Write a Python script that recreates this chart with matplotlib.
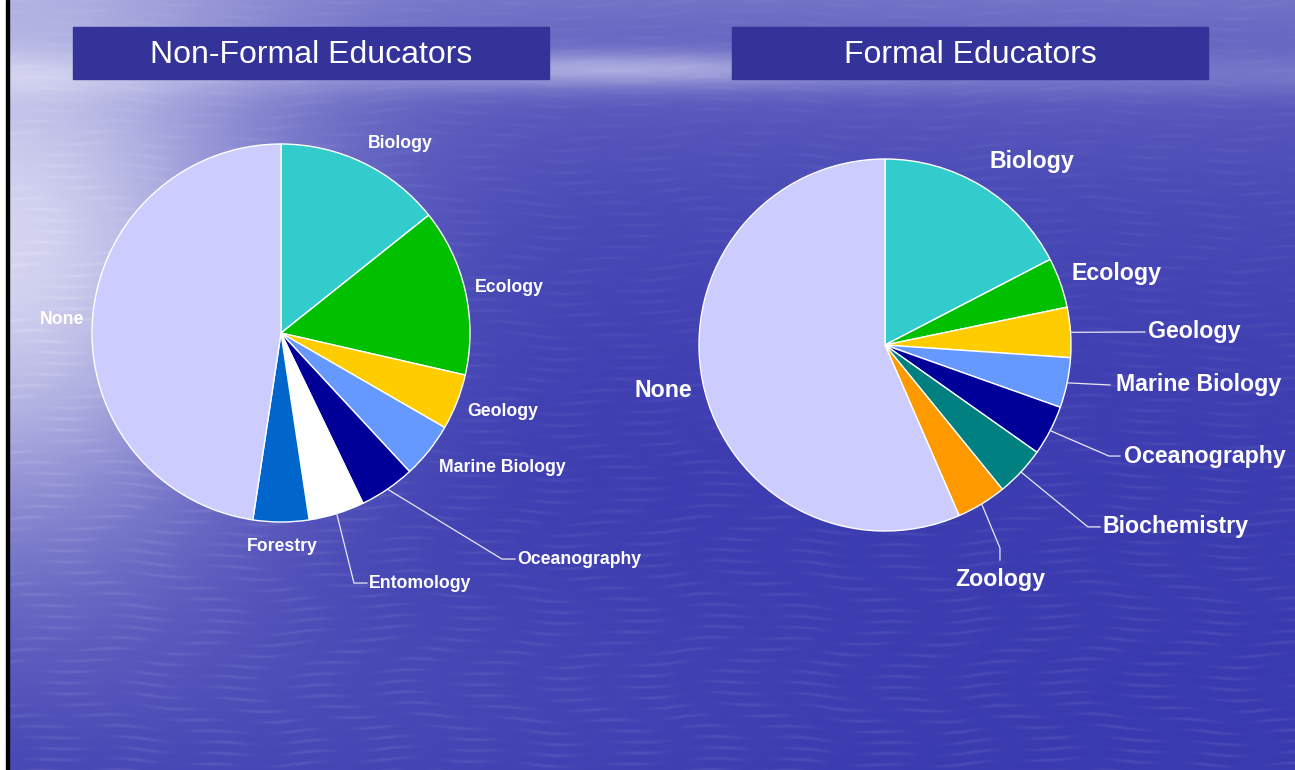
import numpy as np
import matplotlib
matplotlib.use('Agg')
from matplotlib import pyplot as plt
from matplotlib.patches import Rectangle

# Survey answers: field of training of the educators
nonformal_fields = ['Biology', 'Ecology', 'Geology', 'Marine Biology', 'Oceanography',
                    'Entomology', 'Forestry', 'None']
nonformal_counts = [3, 3, 1, 1, 1, 1, 1, 10]
nonformal_colors = ['#33CCCC', '#00C000', '#FFCC00', '#6699FF', '#000099',
                    '#FFFFFF', '#0066CC', '#CCCCFF']

formal_fields = ['Biology', 'Ecology', 'Geology', 'Marine Biology', 'Oceanography',
                 'Biochemistry', 'Zoology', 'None']
formal_counts = [4, 1, 1, 1, 1, 1, 1, 13]
formal_colors = ['#33CCCC', '#00C000', '#FFCC00', '#6699FF', '#000099',
                 '#008080', '#FF9900', '#CCCCFF']

# label layout in pie-radius units: (x, y, ha, leader points or None)
nonformal_layout = [
    (0.63, 1.005, 'center', None),
    (1.21, 0.243, 'center', None),
    (1.175, -0.413, 'center', None),
    (1.17, -0.709, 'center', None),
    (1.249, -1.196, 'left', [(1.169, -1.196), (1.238, -1.196)]),
    (0.466, -1.323, 'left', [(0.386, -1.323), (0.455, -1.323)]),
    (0.005, -1.127, 'center', None),
    (-1.159, 0.069, 'center', None),
]
formal_layout = [
    (0.79, 0.984, 'center', None),
    (1.247, 0.387, 'center', None),
    (1.414, 0.070, 'left', [(1.398, 0.070)]),
    (1.242, -0.215, 'left', [(1.21, -0.215)]),
    (1.285, -0.597, 'left', [(1.204, -0.597), (1.263, -0.597)]),
    (1.172, -0.978, 'left', [(1.091, -0.978), (1.156, -0.978)]),
    (0.618, -1.263, 'center', [(0.618, -1.091), (0.618, -1.156)]),
    (-1.194, -0.242, 'center', None),
]

W, H = 1295, 770
plt.rcParams['font.family'] = ['Liberation Sans', 'DejaVu Sans']


def water_background():
    yy, xx = np.mgrid[0:H, 0:W].astype(float)
    L = 0.07 + 0.30 * np.exp(-yy / 170)
    L += 0.75 * np.exp(-(xx / 280) ** 2) * np.exp(-((yy - 270) / 300) ** 2)
    L += 0.28 * np.exp(-((yy - 68) / 16) ** 2) * np.exp(-((xx - 620) / 230) ** 2)
    L += 0.12 * np.exp(-((yy - 75) / 22) ** 2)
    L += 0.06 * np.exp(-((yy - 700) / 150) ** 2) * np.exp(-((xx - 350) / 450) ** 2)
    # light streaks on the water surface
    waves = np.sin(2 * np.pi * yy / 11 + 2 * np.sin(2 * np.pi * xx / 330)
                   + 0.7 * np.sin(2 * np.pi * xx / 97))
    patches = 0.5 + 0.5 * np.sin(2 * np.pi * xx / 83 + 3 * np.sin(2 * np.pi * yy / 130))
    ripple = np.clip(waves, 0, None) ** 2 * patches
    L += 0.08 * ripple * (0.3 + 0.7 * yy / H)
    L = np.clip(L, 0, 1)
    dark = np.array([44, 44, 170]) / 255
    light = np.array([234, 234, 250]) / 255
    return dark + L[..., None] * (light - dark)


def draw_pie(ax, counts, fields, colors, layout, cx, cy, r, fontsize, title, box_x):
    cy = H - cy
    wedges, _ = ax.pie(counts, colors=colors, startangle=90, counterclock=False,
                       center=(cx, cy), radius=r,
                       wedgeprops=dict(edgecolor='white', linewidth=1.0))
    for w in wedges:
        w.set_zorder(2)
    for w, name, (tx, ty, ha, leader) in zip(wedges, fields, layout):
        if leader:
            mid = np.deg2rad((w.theta1 + w.theta2) / 2)
            xs = [cx + r * np.cos(mid)] + [cx + px * r for px, py in leader]
            ys = [cy + r * np.sin(mid)] + [cy + py * r for px, py in leader]
            ax.plot(xs, ys, color='#E8E8F4', lw=0.9, zorder=3)
        ax.text(cx + tx * r, cy + ty * r, name, ha=ha, va='center', color='white',
                fontsize=fontsize, fontweight='bold', zorder=4)
    # title banner
    ax.add_patch(Rectangle((box_x, H - 79), 476, 52, color='#333399', zorder=2))
    ax.text(box_x + 238, H - 55, title, ha='center', va='center', color='white',
            fontsize=23, zorder=4)


fig = plt.figure(figsize=(12.95, 7.7), dpi=100)
ax = fig.add_axes([0, 0, 1, 1])
ax.imshow(water_background(), extent=(0, W, 0, H), origin='upper',
          interpolation='bilinear', zorder=0)

draw_pie(ax, nonformal_counts, nonformal_fields, nonformal_colors, nonformal_layout,
         281, 333, 189, 12.7, 'Non-Formal Educators', 73)
draw_pie(ax, formal_counts, formal_fields, formal_colors, formal_layout,
         885, 345, 186, 16.7, 'Formal Educators', 732)

# slide edge
ax.add_patch(Rectangle((0, 0), 6, H, color='white', zorder=5))
ax.add_patch(Rectangle((6, 0), 3, H, color='black', zorder=5))

ax.set_xlim(0, W)
ax.set_ylim(0, H)
ax.set_aspect('equal')
ax.axis('off')

fig.savefig('out.png', dpi=100)
